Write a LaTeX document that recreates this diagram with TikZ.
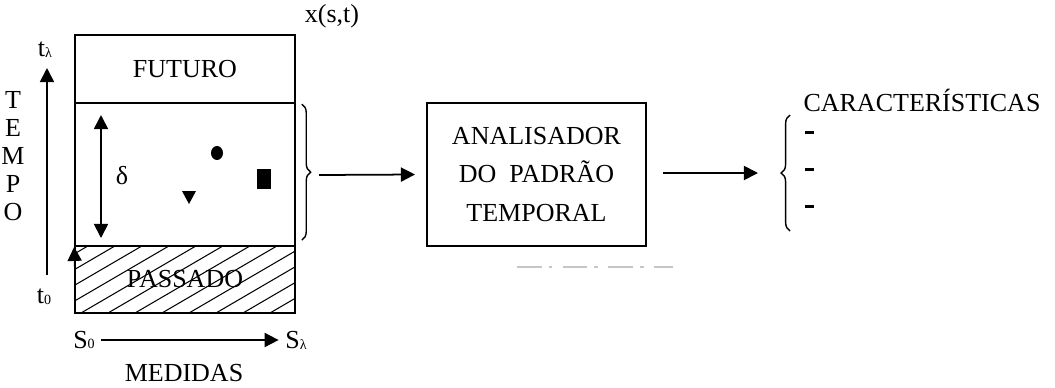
\documentclass[tikz,border=0pt]{standalone}
\usepackage{fontspec}
\setmainfont{Liberation Serif}
\usetikzlibrary{arrows.meta,decorations.pathreplacing,positioning}
\begin{document}
\begin{tikzpicture}[x=0.02cm,y=-0.02cm,line width=1pt,
    every node/.style={font=\fontsize{14.8}{18}\selectfont},
    caixa/.style={draw,minimum width=4.4cm,inner sep=0pt},
    seta/.style={-{Triangle[length=8pt,width=8pt]}},
    chave/.style={decorate,decoration={brace,amplitude=5pt},line width=.8pt}]
    \useasboundingbox (0,0) rectangle (1055,387);
    \node[caixa,minimum height=1.36cm] (futuro) at (185,69) {FUTURO};
    \node[caixa,minimum height=2.86cm] (janela) at (185,174.5) {};
    \begin{scope}
    \clip (75,246) rectangle (295,313);
    \foreach \i in {-3,...,10} \draw[line width=.6pt] (\i*27,313) -- ++(120,-70);
    \end{scope}
    \node[caixa,minimum height=1.34cm] (passado) at (185,279.5) {PASSADO};
    \node (xst) at (332,16) {x(s,t)};
    \node[align=center,font=\fontsize{14.8}{15.9}\selectfont] (tempo) at (13,156) {T\\E\\M\\P\\O};
    \node (tl) at (45,50) {t\raisebox{-.5pt}{\fontsize{8}{8}\selectfont λ}};
    \node (t0) at (44,297) {t\raisebox{-.5pt}{\fontsize{8}{8}\selectfont 0}};
    \coordinate (tbase) at (47,275);
    \coordinate (ttopo) at (47,68);
    \draw[seta] (tbase) -- (ttopo);
    \coordinate (dcima) at (101,115);
    \coordinate (dbaixo) at (101,238);
    \draw[{Triangle[length=8pt,width=8pt]}-{Triangle[length=8pt,width=8pt]}] (dcima) -- (dbaixo);
    \node (delta) at (122,176) {δ};
    \coordinate (pbase) at (75,270);
    \draw[seta] (pbase) -- (janela.south west);
    \fill (217,153) ellipse [x radius=6,y radius=7];
    \fill (182,191) -- (196,191) -- (189,204) -- cycle;
    \fill (257,169) rectangle (271,189);
    \node (s0) at (84,340) {S\raisebox{-.5pt}{\fontsize{8}{8}\selectfont 0}};
    \node (sl) at (296,340) {S\raisebox{-.5pt}{\fontsize{8}{8}\selectfont λ}};
    \draw[seta] (s0) -- (sl);
    \node (medidas) at (184,373) {MEDIDAS};
    \draw[chave] (janela.north east) ++(6,2) coordinate (ccima) -- ++(0,136) coordinate (cbaixo);
    \coordinate (cponta) at (319,175);
    \node[draw,minimum width=4.38cm,minimum height=2.86cm,align=center,
        font=\fontsize{14.8}{16}\selectfont] (analisador) at (536.5,174.5)
        {ANALISADOR\\[6pt]DO~~PADRÃO\\[6pt]TEMPORAL};
    \draw[seta] (cponta) -- (analisador.west -| 415,0);
    \coordinate (fponta) at (758,173);
    \draw[seta] (analisador.east |- 0,173) ++(16,0) -- (fponta);
    \draw[chave] (790,231) coordinate (fbaixo) -- (790,115) coordinate (fcima);
    \node (caracteristicas) at (922,100) {CARACTERÍSTICAS};
    \foreach \y in {132,169,206} \draw[line width=1.7pt] (805,\y) -- (814,\y);
    \draw[gray!45,line width=.8pt,dash pattern=on 14pt off 4pt on 2pt off 6pt] (517,267) -- (673,267);
\end{tikzpicture}
\end{document}
